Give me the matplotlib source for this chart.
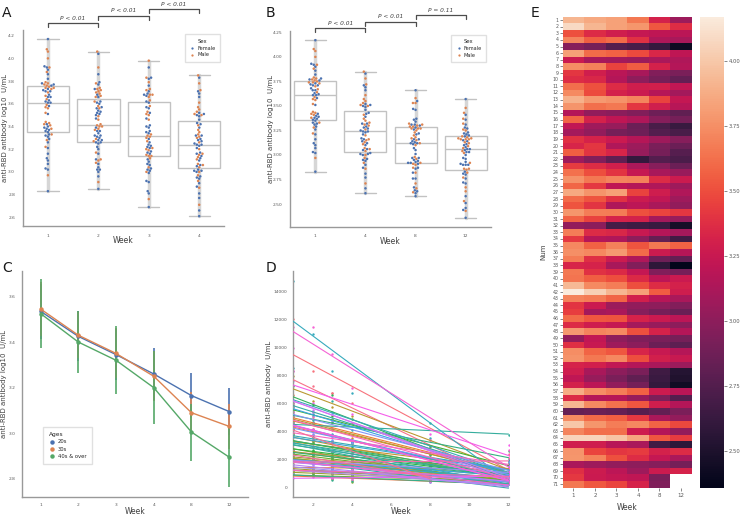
import numpy as np
import pandas as pd
import matplotlib
matplotlib.use("Agg")
import matplotlib.pyplot as plt
from matplotlib.lines import Line2D
import seaborn as sns

# sampling weeks
weeks = [1, 2, 3, 4, 8, 12]
nan = np.nan

# log10 anti-RBD titer per subject (rows) and week (columns)
log_titer = [
    [3.92, 3.86, 3.83, 3.66, 3.31, 3.06],
    [4.08, 3.92, 3.83, 3.78, 3.53, 3.37],
    [3.51, 3.36, 3.29, 3.24, 3.21, 3.19],
    [3.71, 3.56, 3.61, 3.39, 3.14, 3.11],
    [2.97, 2.91, 2.76, 2.71, 2.62, 2.43],
    [3.82, 3.61, 3.57, 3.49, 3.34, 3.21],
    [3.26, 3.11, 3.09, 3.06, 3.12, 3.14],
    [3.74, 3.69, 3.46, 3.55, 3.31, 3.16],
    [3.41, 3.29, 3.19, 3.11, 2.96, 2.92],
    [3.37, 3.34, 3.16, 3.01, 2.91, 2.83],
    [3.62, 3.51, 3.36, 3.29, 3.30, 3.22],
    [3.73, 3.49, 3.31, 3.26, 3.17, 3.09],
    [3.90, 3.79, 3.76, 3.71, 3.46, 3.23],
    [3.77, 3.62, 3.66, 3.41, 3.29, 3.18],
    [3.16, 3.02, 2.99, 2.95, 2.87, 2.81],
    [3.58, 3.31, 3.21, 3.14, 2.97, 2.90],
    [3.22, 3.08, 3.04, 2.86, 2.71, 2.63],
    [3.10, 3.02, 2.91, 2.87, 2.76, 2.71],
    [3.39, 3.32, 3.26, 3.17, 3.07, 2.97],
    [3.33, 3.41, 3.15, 3.06, 2.92, 2.86],
    [3.56, 3.40, 3.33, 3.04, 2.91, 2.77],
    [3.07, 2.96, 2.81, 2.61, 2.76, 2.72],
    [3.43, 3.37, 3.30, 3.13, 2.98, 2.86],
    [3.63, 3.50, 3.40, 3.24, 3.11, 3.05],
    [3.76, 3.66, 3.71, 3.69, 3.36, 3.27],
    [3.59, 3.42, 3.21, 3.16, 3.15, 3.07],
    [3.86, 3.77, 3.82, 3.46, 3.28, 3.15],
    [3.61, 3.52, 3.39, 3.27, 3.22, 3.08],
    [3.52, 3.40, 3.14, 3.20, 3.12, 3.02],
    [3.78, 3.68, 3.67, 3.51, 3.47, 3.41],
    [3.57, 3.46, 3.32, 3.31, 3.10, 3.04],
    [3.03, 3.00, 2.69, 2.66, 2.63, 2.46],
    [3.68, 3.36, 3.34, 3.25, 3.16, 3.10],
    [3.42, 3.17, 3.14, 3.00, 2.82, 2.67],
    [3.72, 3.57, 3.69, 3.52, 3.66, 3.57],
    [3.75, 3.72, 3.79, 3.61, 3.27, 3.17],
    [3.67, 3.38, 3.27, 3.15, 2.87, 2.82],
    [3.33, 3.32, 3.11, 2.96, 2.58, 2.36],
    [3.66, 3.39, 3.35, 3.23, 2.95, 2.90],
    [3.64, 3.56, 3.50, 3.35, 3.20, 3.26],
    [3.93, 3.73, 3.68, 3.50, 3.37, 3.31],
    [4.17, 4.04, 3.92, 3.83, 3.55, 3.28],
    [3.70, 3.67, 3.58, 3.30, 3.18, 3.12],
    [3.40, 3.26, 3.06, 3.02, 3.01, 2.96],
    [3.44, 3.10, 3.12, 2.97, 2.90, 2.85],
    [3.61, 3.53, 3.52, 3.32, 3.26, 3.20],
    [3.36, 3.28, 3.24, 3.10, 3.05, 3.00],
    [3.79, 3.71, 3.73, 3.51, 3.32, 3.16],
    [3.02, 3.22, 3.01, 2.94, 2.92, 2.91],
    [3.38, 3.25, 3.07, 3.00, 2.86, 2.80],
    [3.74, 3.58, 3.53, 3.33, 3.25, 3.17],
    [3.76, 3.66, 3.72, 3.50, 3.30, 3.25],
    [3.32, 3.30, 3.22, 3.16, 3.13, 3.06],
    [3.28, 3.11, 3.00, 2.92, 2.66, 2.53],
    [3.21, 3.04, 2.92, 2.81, 2.64, 2.51],
    [3.31, 3.20, 3.02, 2.90, 2.61, 2.44],
    [3.88, 3.74, 3.68, 3.57, 3.27, 3.19],
    [3.35, 3.16, 3.17, 3.05, 2.93, 2.76],
    [3.92, 3.73, 3.63, 3.53, 3.29, 3.16],
    [2.83, 2.85, 2.83, 2.77, 2.82, 2.93],
    [3.73, 3.60, 3.56, 3.42, 3.12, 3.03],
    [4.00, 3.78, 3.68, 3.72, 3.58, 3.48],
    [3.71, 3.62, 3.62, 3.28, 3.16, 3.03],
    [4.06, 4.06, 3.98, 3.85, 3.53, 3.43],
    [3.29, 3.28, 3.18, 3.12, 2.67, 2.58],
    [3.77, 3.47, 3.41, 3.43, 3.31, 3.36],
    [3.78, 3.70, 3.51, 3.37, 3.23, 3.13],
    [3.12, 3.07, 3.03, 3.01, 2.97, 2.90],
    [3.38, 3.27, 3.20, 3.07, 3.27, 3.32],
    [3.42, 3.26, 3.23, 3.21, 2.92, nan],
    [3.66, 3.54, 3.47, 3.32, 2.94, nan],
]

# sex of each subject, F / M
sex_codes = ("FMFFMFFMMF" "FMFMFFMFFM" "MFMFFMFFMF" "MFFMFMMFFM"
             "FFMFMFFMFF" "MMFMFFMFMF" "FMFMFFMFMF" "F")

# panel C: group means and error bars
age_groups = ["20s", "30s", "40s & over"]
mean_20s = [3.535, 3.425, 3.345, 3.260, 3.165, 3.095]
mean_30s = [3.545, 3.430, 3.350, 3.250, 3.090, 3.030]
mean_40s = [3.525, 3.400, 3.320, 3.200, 3.005, 2.895]
err_20s = [0.12, 0.11, 0.11, 0.115, 0.10, 0.105]
err_30s = [0.12, 0.10, 0.11, 0.11, 0.09, 0.10]
err_40s = [0.15, 0.135, 0.15, 0.16, 0.125, 0.13]

# p values for the brackets
p_text_a = ["P < 0.01", "P < 0.01", "P < 0.01"]
p_text_b = ["P < 0.01", "P < 0.01", "P = 0.11"]

titer = np.array(log_titer, dtype=float)
n_subj = titer.shape[0]
sex = ["Female" if c == "F" else "Male" for c in sex_codes]

sns.set_style("white")
plt.rcParams["font.family"] = ["DejaVu Sans"]
plt.rcParams["axes.edgecolor"] = "0.6"
plt.rcParams["axes.labelcolor"] = "0.25"
plt.rcParams["xtick.color"] = "0.35"
plt.rcParams["ytick.color"] = "0.35"
plt.rcParams["axes.linewidth"] = 1.0

sex_colors = ["#4c72b0", "#dd8452"]
age_colors = ["#4c72b0", "#dd8452", "#55a868"]

fig = plt.figure(figsize=(7.43, 5.15), dpi=100)

W, H = 743.0, 515.0


def px_axes(x0, y0, x1, y1):
    return fig.add_axes([x0 / W, 1 - y1 / H, (x1 - x0) / W, (y1 - y0) / H])


def style_labels(ax, ylab, ylab_x, xlab_y):
    ax.set_xlabel("Week", fontsize=5.5)
    ax.set_ylabel(ylab, fontsize=5)
    ax.yaxis.set_label_coords(ylab_x, 0.5)
    ax.xaxis.set_label_coords(0.5, xlab_y)


def box_swarm(ax, cols, ylim, bracket_y, bracket_h, p_text, legend_anchor):
    labels = [str(weeks[c]) for c in cols]
    rows = []
    vals = []
    for c, lab in zip(cols, labels):
        v = titer[:, c]
        vals.append(v[~np.isnan(v)])
        for i in range(n_subj):
            if not np.isnan(v[i]):
                rows.append((lab, v[i], sex[i]))
    df = pd.DataFrame(rows, columns=["Week", "val", "Sex"])
    ax.boxplot(vals, positions=range(len(cols)), widths=0.84, whis=(0, 100),
               showfliers=False, patch_artist=True,
               boxprops=dict(facecolor="white", edgecolor="#c2c2c2", lw=1.0),
               medianprops=dict(color="#c2c2c2", lw=1.0),
               whiskerprops=dict(color="#d6d6d6", lw=2.5),
               capprops=dict(color="#c2c2c2", lw=1.0), zorder=1)
    sns.swarmplot(data=df, x="Week", y="val", hue="Sex", order=labels,
                  hue_order=["Female", "Male"], palette=sex_colors,
                  size=1.8, ax=ax, zorder=3)
    ax.set_xlim(-0.5, len(cols) - 0.5)
    ax.set_ylim(*ylim)
    ax.set_xticks(range(len(cols)))
    ax.set_xticklabels(labels)
    ax.tick_params(labelsize=3.2, pad=2)
    sns.despine(ax=ax)
    for k in range(len(cols) - 1):
        y = bracket_y[k]
        ax.plot([k, k, k + 1, k + 1], [y - bracket_h, y, y, y - bracket_h],
                color="0.3", lw=0.9, clip_on=False)
        ax.text(k + 0.5, y + bracket_h * 0.6, p_text[k], ha="center", va="bottom",
                fontsize=4.2, style="italic", color="0.25", clip_on=False)
    h, l = ax.get_legend_handles_labels()
    ax.legend(h, l, title="Sex", loc="upper right", bbox_to_anchor=legend_anchor,
              fontsize=3.6, title_fontsize=3.8, markerscale=0.9,
              frameon=True, borderpad=0.9, handletextpad=0.3, labelspacing=0.35,
              handlelength=1.3, edgecolor="0.85", fancybox=False)


# panel A
ax_a = px_axes(22.7, 30, 224.4, 226)
box_swarm(ax_a, [0, 1, 2, 3], (2.523, 4.25), [4.309, 4.376, 4.432], 0.035,
          p_text_a, (0.99, 0.99))
ax_a.set_yticks(np.arange(2.6, 4.21, 0.2))
style_labels(ax_a, "anti-RBD antibody log10  U/mL", -0.073, -0.051)

# panel B
ax_b = px_axes(290.3, 31.4, 490.7, 226.7)
box_swarm(ax_b, [0, 3, 4, 5], (2.269, 4.26), [4.291, 4.358, 4.427], 0.04,
          p_text_b, (0.99, 0.995))
ax_b.set_yticks(np.arange(2.5, 4.26, 0.25))
ax_b.set_yticklabels([f"{t:.2f}" for t in np.arange(2.5, 4.26, 0.25)])
style_labels(ax_b, "anti-RBD antibody log10  U/mL", -0.081, -0.051)

# panel C
ax_c = px_axes(21.7, 270.7, 248, 497)
xpos = np.arange(len(weeks))
for name, m, e, col in zip(age_groups, [mean_20s, mean_30s, mean_40s],
                           [err_20s, err_30s, err_40s], age_colors):
    ax_c.errorbar(xpos, m, yerr=e, color=col, lw=1.0, elinewidth=1.2,
                  marker="o", ms=2.2, label=name)
ax_c.set_xlim(-0.5, len(weeks) - 0.5)
ax_c.set_ylim(2.72, 3.713)
ax_c.set_xticks(xpos)
ax_c.set_xticklabels([str(w) for w in weeks])
ax_c.set_yticks([2.8, 3.0, 3.2, 3.4, 3.6])
ax_c.tick_params(labelsize=3.2, pad=0.8)
style_labels(ax_c, "anti-RBD antibody log10  U/mL", -0.063, -0.043)
sns.despine(ax=ax_c)
age_handles = [Line2D([], [], ls="none", marker="o", ms=2.2, color=c)
               for c in age_colors]
ax_c.legend(age_handles, age_groups, title="Ages", loc="lower left",
            bbox_to_anchor=(0.084, 0.132), fontsize=3.8, title_fontsize=4.2,
            frameon=True, borderpad=1.0, handletextpad=0.5, labelspacing=0.45,
            handlelength=1.2, edgecolor="0.85", fancybox=False, alignment="left")

# panel D
ax_d = px_axes(293.3, 270.7, 508.5, 497)
pal = sns.husl_palette(n_subj)
wk = np.array(weeks, dtype=float)
for i in range(n_subj):
    ok = ~np.isnan(titer[i])
    x = wk[ok]
    y = 10 ** titer[i][ok]
    ax_d.scatter(x, y, s=3, color=pal[i], lw=0, zorder=2)
    b1, b0 = np.polyfit(x, y, 1)
    xx = np.array([x.min(), x.max()])
    ax_d.plot(xx, b0 + b1 * xx, color=pal[i], lw=0.8, zorder=3)
ax_d.set_xlim(1, 12)
ax_d.set_ylim(-700, 15500)
ax_d.set_xticks([2, 4, 6, 8, 10, 12])
ax_d.set_yticks(np.arange(0, 14001, 2000))
ax_d.tick_params(labelsize=3.2, pad=0.8)
style_labels(ax_d, "anti-RBD antibody  U/mL", -0.098, -0.043)
sns.despine(ax=ax_d)

# panel E
ax_e = px_axes(562.7, 16.7, 691.7, 487.7)
cax = px_axes(700, 16.7, 724, 487.7)
sns.heatmap(titer, cmap="rocket", ax=ax_e, cbar_ax=cax,
            xticklabels=[str(w) for w in weeks],
            yticklabels=[str(i + 1) for i in range(n_subj)])
ax_e.tick_params(axis="y", left=True, length=2, width=0.5, labelsize=3.4,
                 pad=1, rotation=0)
ax_e.tick_params(axis="x", bottom=True, length=2, width=0.5, labelsize=4,
                 pad=1.5)
ax_e.set_xlabel("Week", fontsize=5.5)
ax_e.set_ylabel("Num", fontsize=5)
ax_e.xaxis.set_label_coords(0.5, -0.032)
ax_e.yaxis.set_label_coords(-0.13, 0.5)
cax.tick_params(right=True, length=2, width=0.5, labelsize=3.8, pad=1.5)
cax.set_yticks([2.5, 2.75, 3.0, 3.25, 3.5, 3.75, 4.0])
cax.set_yticklabels(["2.50", "2.75", "3.00", "3.25", "3.50", "3.75", "4.00"])

# panel letters
for txt, x, y in [("A", 2, 13), ("B", 266, 13), ("C", 2, 268),
                  ("D", 266, 268), ("E", 531, 13)]:
    fig.text(x / W, 1 - y / H, txt, fontsize=10, va="center", ha="left",
             color="0.1")

fig.savefig("out.png", dpi=100)
